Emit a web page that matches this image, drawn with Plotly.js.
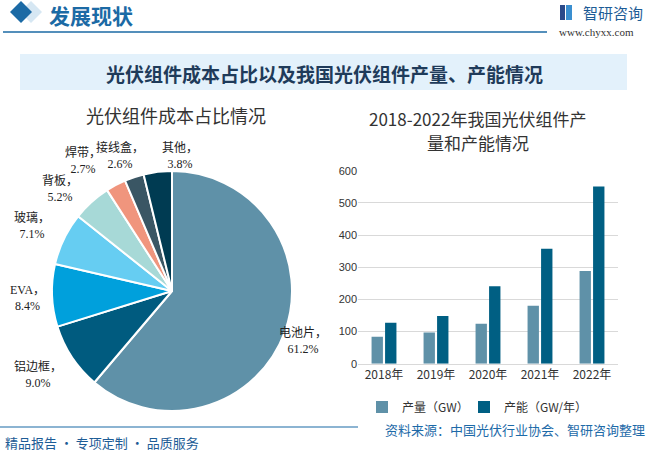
<!DOCTYPE html>
<html>
<head>
<meta charset="utf-8">
<script src="https://cdn.plot.ly/plotly-3.0.1.min.js"></script>
<style>html,body{margin:0;padding:0;background:#fff;}#chart{width:648px;height:451px;}</style>
</head>
<body>
<div id="chart"></div>
<script>
// ---- data ----
const pieLabels = ["电池片", "铝边框", "EVA", "玻璃", "背板", "焊带", "接线盒", "其他"];
const pieValues = [61.2, 9.0, 8.4, 7.1, 5.2, 2.7, 2.6, 3.8];
const pieColors = ["#5f91a8", "#005b7f", "#00a0dc", "#66cdf2", "#a7d9d7", "#f0957d", "#3a5664", "#003b52"];

const years = ["2018年", "2019年", "2020年", "2021年", "2022年"];
const output = [84, 97, 124, 180, 288];
const capacity = [127, 148, 241, 357, 551];
const seriesNames = ["产量（GW）", "产能（GW/年）"];

const W = 648, H = 451;
const px = x => x / W, py = y => 1 - y / H;
const serif = "Liberation Serif, Noto Sans CJK SC, serif";
const sans = "Noto Sans CJK SC, sans-serif";

const traces = [
  {
    type: "pie", labels: pieLabels, values: pieValues, sort: false,
    direction: "clockwise", rotation: 0, textinfo: "none", hoverinfo: "label+value",
    marker: {colors: pieColors, line: {color: "#ffffff", width: 2}},
    domain: {x: [px(52), px(292)], y: [py(411), py(171)]}, showlegend: false
  },
  {
    type: "bar", x: years, y: output, name: seriesNames[0], legend: "legend",
    marker: {color: "#5f91a8"}, xaxis: "x", yaxis: "y"
  },
  {
    type: "bar", x: years, y: capacity, name: seriesNames[1], legend: "legend2",
    marker: {color: "#005f83"}, xaxis: "x", yaxis: "y"
  }
];

// pie label positions (center of the two lines)
const labelPos = [[303, 341], [38, 374], [27, 298], [32, 226], [60, 189], [83, 161], [120, 155], [180, 156]];
const annotations = [];
function ann(x, y, text, font, xanchor, extra) {
  annotations.push(Object.assign({xref: "paper", yref: "paper", x: px(x), y: py(y), text: text, showarrow: false,
    font: font, xanchor: xanchor || "center", yanchor: "middle", align: "center", borderpad: 0}, extra || {}));
}
pieLabels.forEach((l, i) => {
  ann(labelPos[i][0], labelPos[i][1], l + "，<br>" + pieValues[i].toFixed(1) + "%",
      {family: serif, size: 12, color: "#222"});
});
ann(48, 15, "<b>发展现状</b>", {family: sans, size: 21, color: "#1b6aa5"}, "left");
ann(582, 12, "智研咨询", {family: sans, size: 15, color: "#1d5c96"}, "left");
ann(596, 32, "www.chyxx.com", {family: serif, size: 11, color: "#333"});
ann(324, 73, "<b>光伏组件成本占比以及我国光伏组件产量、产能情况</b>", {family: sans, size: 19, color: "#1f3b5a"});
ann(176, 115, "光伏组件成本占比情况", {family: sans, size: 18, color: "#333"});
ann(478, 118, "2018-2022年我国光伏组件产", {family: sans, size: 17, color: "#333"});
ann(478, 142, "量和产能情况", {family: sans, size: 17, color: "#333"});
ann(4, 442, "精品报告 · 专项定制 · 品质服务", {family: sans, size: 13, color: "#1d5c96"}, "left");
ann(646, 429, "资料来源：中国光伏行业协会、智研咨询整理", {family: sans, size: 13, color: "#1d6aa8"}, "right");

const shapes = [
  {type: "rect", xref: "paper", yref: "paper", x0: px(20), x1: px(627), y0: py(90), y1: py(54), fillcolor: "#e3f1fb", line: {width: 0}, layer: "below"},
  {type: "line", xref: "paper", yref: "paper", x0: px(3), x1: px(547), y0: py(32), y1: py(32), line: {color: "#1b6aa5", width: 1.5}},
  {type: "line", xref: "paper", yref: "paper", x0: px(0), x1: px(358), y0: py(427), y1: py(427), line: {color: "#1b6aa5", width: 1.2}},
  // header diamond
  {type: "path", xref: "paper", yref: "paper", path: `M ${px(31)} ${py(1)} L ${px(42)} ${py(12)} L ${px(31)} ${py(23)} L ${px(20)} ${py(12)} Z`, fillcolor: "#d6e7f3", line: {width: 0}},
  {type: "path", xref: "paper", yref: "paper", path: `M ${px(21)} ${py(1)} L ${px(32)} ${py(12)} L ${px(21)} ${py(23)} L ${px(10)} ${py(12)} Z`, fillcolor: "#1b6aa5", line: {width: 0}},
  // logo icon
  {type: "rect", xref: "paper", yref: "paper", x0: px(560), x1: px(565), y0: py(20), y1: py(5), fillcolor: "#2b4a8a", line: {width: 0}},
  {type: "rect", xref: "paper", yref: "paper", x0: px(566), x1: px(572), y0: py(20), y1: py(5), fillcolor: "#3a8fd0", line: {width: 0}}
];

const legendCommon = {orientation: "h", yanchor: "middle", xanchor: "left", y: py(407),
  font: {family: sans, size: 12, color: "#333"}, itemwidth: 30, bgcolor: "rgba(0,0,0,0)"};

const layout = {
  width: W, height: H, margin: {l: 0, r: 0, t: 0, b: 0},
  paper_bgcolor: "#ffffff", plot_bgcolor: "rgba(0,0,0,0)",
  barmode: "group", bargap: 0.48, bargroupgap: 0.16,
  xaxis: {domain: [px(358), px(618)], anchor: "y", showline: true, linecolor: "#d9d9d9", ticks: "",
    tickfont: {family: sans, size: 12, color: "#333"}, fixedrange: true},
  yaxis: {domain: [py(363.7), py(170.7)], anchor: "x", range: [0, 600], dtick: 100, showgrid: true,
    gridcolor: "#d9d9d9", zeroline: false, showline: false, ticks: "", ticklen: 6,
    tickfont: {family: "Liberation Sans, sans-serif", size: 11, color: "#333"}, fixedrange: true},
  showlegend: true,
  legend: Object.assign({}, legendCommon, {x: px(362)}),
  legend2: Object.assign({}, legendCommon, {x: px(464)}),
  annotations: annotations, shapes: shapes
};

Plotly.newPlot("chart", traces, layout, {displayModeBar: false, staticPlot: true});
</script>
</body>
</html>
